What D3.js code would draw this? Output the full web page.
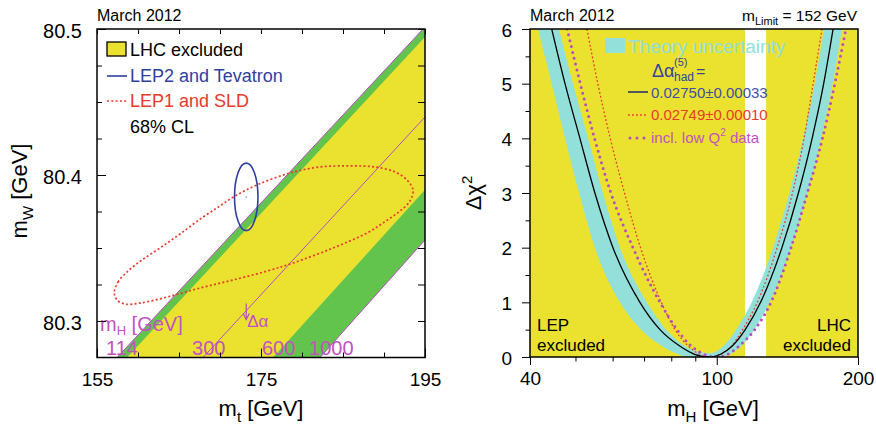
<!DOCTYPE html>
<html><head><meta charset="utf-8">
<script src="https://cdn.jsdelivr.net/npm/d3@7"></script>
<style>
body{margin:0;background:#fff;}
svg{display:block;font-family:"Liberation Sans",Arial,Helvetica,sans-serif;}
</style></head><body>
<svg id="chart" width="876" height="429"></svg>
<script>
// ---------- left panel: mW versus mt ----------
const mtDomain = [155, 195];
const mwDomain = [80.275, 80.5];
const mtTickLabels = [155, 175, 195];
const mtMinorTicks = [155, 160, 165, 170, 175, 180, 185, 190, 195];
const mwTickLabels = [80.3, 80.4, 80.5];
const mwMinorTicks = [80.3, 80.325, 80.35, 80.375, 80.4, 80.425, 80.45, 80.475, 80.5];

// SM lines of fixed mH: mt where each line meets mW = 80.275 and mW = 80.5
const lineMH = [114, 127, 300, 600, 1000];
const lineMtBottom = [157.44, 158.66, 167.93, 176.46, 182.2];
const lineMtTop = [194.76, 195.9, 204.9, 212.75, 217.97];
const mhLabels = ["114", "300", "600", "1000"];
const mhLabelLine = [0, 2, 3, 4];

// LEP2 and Tevatron 68% CL (centre and half-widths)
const lep2Centre = [173.2, 80.385];
const lep2Half = [1.43, 0.0231];

// LEP1 and SLD 68% CL contour
const lep1Mt = [157.11,157.56,158.78,160.49,162.68,165.12,167.93,170.00,171.83,174.51,178.54,182.20,185.85,188.90,191.34,192.80,193.54,193.17,191.95,190.24,187.93,183.78,178.90,175.73,171.59,167.56,163.54,160.24,158.41,157.44];
const lep1Mw = [80.3192,80.3267,80.3342,80.3418,80.3500,80.3596,80.3712,80.3788,80.3856,80.3932,80.4014,80.4055,80.4062,80.4055,80.4021,80.3966,80.3897,80.3822,80.3753,80.3685,80.3603,80.3500,80.3397,80.3342,80.3281,80.3226,80.3164,80.3123,80.3116,80.3144];

// Delta-alpha shift arrow (mt, mW from, mW to)
const dAlphaArrow = [173.2, 80.312, 80.301];

// ---------- right panel: delta chi2 versus mH ----------
const mhDomain = [40, 200];
const chiDomain = [0, 6];
const mhTickLabels = [40, 100, 200];
const mhMinorTicks = [50, 60, 70, 80, 90];
const chiTickLabels = [0, 1, 2, 3, 4, 5, 6];
const chiMinorTicks = [0.5, 1.5, 2.5, 3.5, 4.5, 5.5];
const lepExcluded = [40, 114.9];
const lhcExcluded = [127.4, 200];

const chiLevels = [6, 5, 4, 3, 2, 1, 0.5, 0.2, 0.05, 0, 0.05, 0.2, 0.5, 1, 2, 3, 4, 5, 6];
const fitMH    = [44.5, 47.5, 51.1, 55.0, 60.1, 68.6, 75.7, 83.4, 89.7, 96.3, 101.9, 107.9, 115.0, 124.0, 137.7, 149.3, 159.7, 169.0, 177.0];
const altMH    = [52.9, 55.8, 59.3, 63.6, 68.8, 76.2, 81.5, 87.0, 92.0, 97.0, 102.0, 107.5, 113.5, 122.0, 134.5, 145.0, 153.5, 160.5, 167.6];
const lowQ2MH  = [48.0, 51.2, 54.9, 59.5, 66.3, 75.7, 82.3, 88.3, 94.0, 99.8, 105.5, 111.5, 120.5, 130.5, 144.0, 156.0, 168.0, 178.5, 188.5];

// theory band: outer (lower) envelope and inner (upper) envelope
const bandOuterMH  = [41.6, 44.5, 47.5, 50.9, 55.0, 62.2, 69.0, 76.5, 82.7, 87.7, 101.6, 106.7, 112.8, 120.2, 129.6, 144.0, 156.0, 166.9, 176.6, 184.9];
const bandOuterChi = [6, 5, 4, 3, 2, 1, 0.5, 0.2, 0.05, 0, 0, 0.05, 0.2, 0.5, 1, 2, 3, 4, 5, 6];
const bandInnerMH  = [46.1, 49.4, 53.2, 57.2, 62.2, 71.0, 78.0, 85.6, 90.8, 97.0, 103.3, 110.0, 118.7, 131.8, 142.8, 152.8, 161.7, 169.2];
const bandInnerChi = [6, 5, 4, 3, 2, 1, 0.5, 0.2, 0.1, 0.07, 0.2, 0.5, 1, 2, 3, 4, 5, 6];

// ---------- styles ----------
const YELLOW = "#ebe230", GREEN = "#62c44c", CYAN = "#92e0d9";
const MAGENTA = "#b84cc4", MAG_TXT = "#c251c2", BLUE = "#2f3f9e", RED = "#e73a2c";
const LEG_BLUE = "#3d4fa3";

const svg = d3.select("#chart");
const zip = (a, b) => a.map((v, i) => [v, b[i]]);

function styleAxis(g, size) {
  g.attr("font-family", null).attr("font-size", null);
  g.select(".domain").remove();
  g.selectAll("line").attr("stroke", "#000").attr("stroke-width", 1);
  g.selectAll("text").attr("font-size", size).attr("fill", "#000");
}

// ======== LEFT PANEL ========
const LP = {l: 97, r: 425, t: 29, b: 357.5};
const xL = d3.scaleLinear().domain(mtDomain).range([LP.l, LP.r]);
const yL = d3.scaleLinear().domain(mwDomain).range([LP.b, LP.t]);

const defs = svg.append("defs");
defs.append("clipPath").attr("id", "clipL").append("rect")
  .attr("x", LP.l).attr("y", LP.t).attr("width", LP.r - LP.l).attr("height", LP.b - LP.t);

const gL = svg.append("g").attr("clip-path", "url(#clipL)");
const polyL = d3.line().x(d => xL(d[0])).y(d => yL(d[1]));
const bandPoly = (i, j) => [[lineMtBottom[i], mwDomain[0]], [lineMtTop[i], mwDomain[1]],
                            [lineMtTop[j], mwDomain[1]], [lineMtBottom[j], mwDomain[0]]];
gL.append("path").attr("d", polyL(bandPoly(0, 4)) + "Z").attr("fill", GREEN);
gL.append("path").attr("d", polyL(bandPoly(1, 3)) + "Z").attr("fill", YELLOW);
[0, 2, 4].forEach(i => {
  gL.append("line")
    .attr("x1", xL(lineMtBottom[i])).attr("y1", yL(mwDomain[0]))
    .attr("x2", xL(lineMtTop[i])).attr("y2", yL(mwDomain[1]))
    .attr("stroke", MAGENTA).attr("stroke-width", 1);
});

// LEP1 + SLD contour
gL.append("path")
  .attr("d", d3.line().x(d => xL(d[0])).y(d => yL(d[1])).curve(d3.curveCatmullRomClosed.alpha(0.5))(zip(lep1Mt, lep1Mw)))
  .attr("fill", "none").attr("stroke", RED).attr("stroke-width", 1.7).attr("stroke-dasharray", "2,2.3");

// LEP2 + Tevatron ellipse
gL.append("ellipse")
  .attr("cx", xL(lep2Centre[0])).attr("cy", yL(lep2Centre[1]))
  .attr("rx", xL(lep2Centre[0] + lep2Half[0]) - xL(lep2Centre[0]))
  .attr("ry", yL(lep2Centre[1] - lep2Half[1]) - yL(lep2Centre[1]))
  .attr("fill", "none").attr("stroke", BLUE).attr("stroke-width", 1.6);
gL.append("circle").attr("cx", xL(lep2Centre[0])).attr("cy", yL(lep2Centre[1])).attr("r", 0.6).attr("fill", BLUE);

// delta-alpha arrow
const ax = xL(dAlphaArrow[0]), ay1 = yL(dAlphaArrow[1]), ay2 = yL(dAlphaArrow[2]);
gL.append("line").attr("x1", ax).attr("x2", ax).attr("y1", ay1).attr("y2", ay2)
  .attr("stroke", MAGENTA).attr("stroke-width", 1.2);
gL.append("path").attr("d", `M${ax - 3},${ay2 - 6}L${ax},${ay2}L${ax + 3},${ay2 - 6}`)
  .attr("fill", "none").attr("stroke", MAGENTA).attr("stroke-width", 1.2);
svg.append("text").attr("x", ax + 1).attr("y", ay2 + 7).attr("font-size", 17).attr("fill", MAG_TXT).text("Δα");

// mH labels along the bottom
const mhT = svg.append("text").attr("x", 100).attr("y", 331).attr("font-size", 20).attr("fill", MAG_TXT);
mhT.append("tspan").text("m");
mhT.append("tspan").attr("font-size", 13).attr("dy", 4).text("H");
mhT.append("tspan").attr("dy", -4).text(" [GeV]");
mhLabels.forEach((t, k) => {
  svg.append("text").attr("x", xL(lineMtBottom[mhLabelLine[k]]) - 11).attr("y", 355)
    .attr("font-size", 20).attr("fill", MAG_TXT).text(t);
});

// axes (ticks inward on all four sides)
const axB = svg.append("g").attr("transform", `translate(0,${LP.b})`);
axB.call(d3.axisBottom(xL).tickValues(mtMinorTicks).tickSize(-5).tickFormat(""));
styleAxis(axB, 19);
const axB2 = svg.append("g").attr("transform", `translate(0,${LP.b})`);
axB2.call(d3.axisBottom(xL).tickValues(mtTickLabels).tickSize(-9).tickPadding(15).tickFormat(d3.format("d")));
styleAxis(axB2, 19);
const axT = svg.append("g").attr("transform", `translate(0,${LP.t})`);
axT.call(d3.axisTop(xL).tickValues(mtMinorTicks).tickSize(-5).tickFormat(""));
styleAxis(axT, 19);
const axL1 = svg.append("g").attr("transform", `translate(${LP.l},0)`);
axL1.call(d3.axisLeft(yL).tickValues(mwMinorTicks).tickSize(-5).tickFormat(""));
styleAxis(axL1, 20);
const axL2 = svg.append("g").attr("transform", `translate(${LP.l},0)`);
axL2.call(d3.axisLeft(yL).tickValues(mwTickLabels).tickSize(-9).tickPadding(15).tickFormat(d3.format(".1f")));
styleAxis(axL2, 20);
axL2.selectAll("text").attr("dy", "0.42em");
const axR = svg.append("g").attr("transform", `translate(${LP.r},0)`);
axR.call(d3.axisRight(yL).tickValues(mwMinorTicks).tickSize(-7).tickFormat(""));
styleAxis(axR, 20);
svg.append("rect").attr("x", LP.l).attr("y", LP.t).attr("width", LP.r - LP.l).attr("height", LP.b - LP.t)
  .attr("fill", "none").attr("stroke", "#000").attr("stroke-width", 1.5);

// legend
svg.append("rect").attr("x", 107).attr("y", 42).attr("width", 19).attr("height", 14)
  .attr("fill", YELLOW).attr("stroke", "#000").attr("stroke-width", 1.3);
svg.append("text").attr("x", 130).attr("y", 56).attr("font-size", 18).text("LHC excluded");
svg.append("line").attr("x1", 107).attr("x2", 127).attr("y1", 76).attr("y2", 76).attr("stroke", BLUE).attr("stroke-width", 1.6);
svg.append("text").attr("x", 130).attr("y", 82).attr("font-size", 18).attr("fill", BLUE).text("LEP2 and Tevatron");
svg.append("line").attr("x1", 107).attr("x2", 127).attr("y1", 101).attr("y2", 101).attr("stroke", RED).attr("stroke-width", 1.7).attr("stroke-dasharray", "2,2.3");
svg.append("text").attr("x", 130).attr("y", 107).attr("font-size", 18).attr("fill", RED).text("LEP1 and SLD");
svg.append("text").attr("x", 130).attr("y", 133).attr("font-size", 18).text("68% CL");

svg.append("text").attr("x", 97).attr("y", 21).attr("font-size", 16).text("March 2012");

// axis titles
const mwTitle = svg.append("text").attr("transform", "translate(27,191) rotate(-90)")
  .attr("text-anchor", "middle").attr("font-size", 22);
mwTitle.append("tspan").text("m");
mwTitle.append("tspan").attr("font-size", 15).attr("dy", 6).text("W");
mwTitle.append("tspan").attr("dy", -6).text(" [GeV]");
const mtTitle = svg.append("text").attr("x", 261).attr("y", 416).attr("text-anchor", "middle").attr("font-size", 22);
mtTitle.append("tspan").text("m");
mtTitle.append("tspan").attr("font-size", 15).attr("dy", 6).text("t");
mtTitle.append("tspan").attr("dy", -6).text(" [GeV]");

// ======== RIGHT PANEL ========
const RP = {l: 530, r: 858, t: 29, b: 357};
const xR = d3.scaleLog().domain(mhDomain).range([RP.l, RP.r]);
const yR = d3.scaleLinear().domain(chiDomain).range([RP.b, RP.t]);
defs.append("clipPath").attr("id", "clipR").append("rect")
  .attr("x", RP.l).attr("y", RP.t).attr("width", RP.r - RP.l).attr("height", RP.b - RP.t);
const gR = svg.append("g").attr("clip-path", "url(#clipR)");

[lepExcluded, lhcExcluded].forEach(r => {
  gR.append("rect").attr("x", xR(r[0])).attr("y", RP.t).attr("width", xR(r[1]) - xR(r[0]))
    .attr("height", RP.b - RP.t).attr("fill", YELLOW);
});

const curveR = d3.line().x(d => xR(d[0])).y(d => yR(d[1])).curve(d3.curveMonotoneX);
gR.append("path")
  .attr("d", curveR(zip(bandOuterMH, bandOuterChi)) + "Z" + curveR(zip(bandInnerMH, bandInnerChi)) + "Z")
  .attr("fill", CYAN).attr("fill-rule", "evenodd");
gR.append("path").attr("d", curveR(zip(altMH, chiLevels)))
  .attr("fill", "none").attr("stroke", RED).attr("stroke-width", 1.3).attr("stroke-dasharray", "1.8,2.2");
gR.append("path").attr("d", curveR(zip(fitMH, chiLevels)))
  .attr("fill", "none").attr("stroke", "#000").attr("stroke-width", 1.3);
gR.append("path").attr("d", curveR(zip(lowQ2MH, chiLevels)))
  .attr("fill", "none").attr("stroke", MAGENTA).attr("stroke-width", 3).attr("stroke-linecap", "round")
  .attr("stroke-dasharray", "0,6");

// axes (ticks outward)
const rb1 = svg.append("g").attr("transform", `translate(0,${RP.b})`);
rb1.call(d3.axisBottom(xR).tickValues(mhMinorTicks).tickSize(4.5).tickFormat(""));
styleAxis(rb1, 19);
const rb2 = svg.append("g").attr("transform", `translate(0,${RP.b})`);
rb2.call(d3.axisBottom(xR).tickValues(mhTickLabels).tickSize(8).tickPadding(6.5).tickFormat(d3.format("d")));
styleAxis(rb2, 19);
const rl1 = svg.append("g").attr("transform", `translate(${RP.l},0)`);
rl1.call(d3.axisLeft(yR).tickValues(chiMinorTicks).tickSize(4.5).tickFormat(""));
styleAxis(rl1, 19);
const rl2 = svg.append("g").attr("transform", `translate(${RP.l},0)`);
rl2.call(d3.axisLeft(yR).tickValues(chiTickLabels).tickSize(8).tickPadding(10).tickFormat(d3.format("d")));
styleAxis(rl2, 19);
rl2.selectAll("text").attr("dy", "0.38em");
svg.append("rect").attr("x", RP.l).attr("y", RP.t).attr("width", RP.r - RP.l).attr("height", RP.b - RP.t)
  .attr("fill", "none").attr("stroke", "#000").attr("stroke-width", 1.5);

// legend
svg.append("rect").attr("x", 605).attr("y", 38).attr("width", 20).attr("height", 15).attr("fill", CYAN);
svg.append("text").attr("x", 628).attr("y", 53).attr("font-size", 19).attr("fill", CYAN).text("Theory uncertainty");
svg.append("text").attr("x", 652).attr("y", 77).attr("font-size", 18).attr("fill", "#34449a").text("Δα");
svg.append("text").attr("x", 674).attr("y", 66).attr("font-size", 11).attr("fill", "#34449a").text("(5)");
svg.append("text").attr("x", 674).attr("y", 80.5).attr("font-size", 12).attr("fill", "#34449a").text("had");
svg.append("text").attr("x", 696).attr("y", 77).attr("font-size", 16).attr("fill", "#34449a").text("=");
svg.append("line").attr("x1", 628).attr("x2", 648).attr("y1", 92).attr("y2", 92).attr("stroke", "#1d2a6e").attr("stroke-width", 1.5);
svg.append("text").attr("x", 651).attr("y", 97.5).attr("font-size", 15).attr("fill", LEG_BLUE).text("0.02750±0.00033");
svg.append("line").attr("x1", 628).attr("x2", 648).attr("y1", 115).attr("y2", 115).attr("stroke", RED).attr("stroke-width", 1.3).attr("stroke-dasharray", "1.8,2.2");
svg.append("text").attr("x", 651).attr("y", 120).attr("font-size", 15).attr("fill", RED).text("0.02749±0.00010");
svg.append("line").attr("x1", 630).attr("x2", 648).attr("y1", 138).attr("y2", 138).attr("stroke", MAGENTA).attr("stroke-width", 3)
  .attr("stroke-linecap", "round").attr("stroke-dasharray", "0,7");
const q2 = svg.append("text").attr("x", 651).attr("y", 143).attr("font-size", 15).attr("fill", MAG_TXT);
q2.append("tspan").text("incl. low Q");
q2.append("tspan").attr("font-size", 10).attr("dy", -7).text("2");
q2.append("tspan").attr("dy", 7).text(" data");

// exclusion labels
const lepT = svg.append("text").attr("font-size", 17);
lepT.append("tspan").attr("x", 537).attr("y", 331).text("LEP");
lepT.append("tspan").attr("x", 537).attr("y", 351).text("excluded");
const lhcT = svg.append("text").attr("font-size", 17).attr("text-anchor", "end");
lhcT.append("tspan").attr("x", 851).attr("y", 331).text("LHC");
lhcT.append("tspan").attr("x", 851).attr("y", 351).text("excluded");

svg.append("text").attr("x", 530).attr("y", 21).attr("font-size", 16).text("March 2012");
const lim = svg.append("text").attr("x", 857).attr("y", 21).attr("font-size", 15.5).attr("text-anchor", "end");
lim.append("tspan").text("m");
lim.append("tspan").attr("font-size", 11).attr("dy", 4).text("Limit");
lim.append("tspan").attr("dy", -4).text(" = 152 GeV");

const chiTitle = svg.append("text").attr("transform", "translate(481,193) rotate(-90)")
  .attr("text-anchor", "middle").attr("font-size", 22);
chiTitle.append("tspan").text("Δχ");
chiTitle.append("tspan").attr("font-size", 15).attr("dy", -9).text("2");
const mhTitle = svg.append("text").attr("x", 713).attr("y", 416).attr("text-anchor", "middle").attr("font-size", 22);
mhTitle.append("tspan").text("m");
mhTitle.append("tspan").attr("font-size", 15).attr("dy", 6).text("H");
mhTitle.append("tspan").attr("dy", -6).text(" [GeV]");
</script>
</body></html>
